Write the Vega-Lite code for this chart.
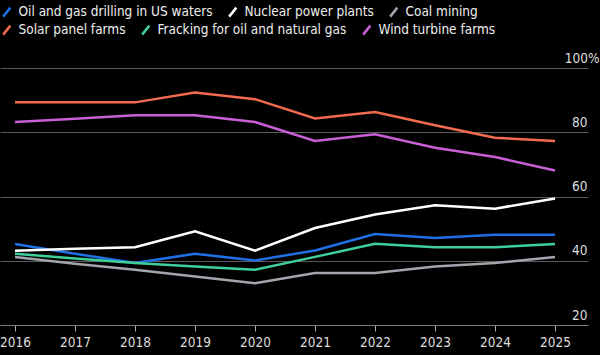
{
  "$schema": "https://vega.github.io/schema/vega-lite/v6.json",
  "width": 588,
  "height": 257,
  "autosize": {"type": "none"},
  "padding": {"left": 0, "top": 68, "right": 12, "bottom": 30},
  "background": "#000000",
  "config": {
    "view": {"stroke": null},
    "font": "DejaVu Sans Condensed, Roboto, sans-serif"
  },
  "data": {
    "values": [
      {"year": 2016, "series": "Oil and gas drilling in US waters", "value": 45.2},
      {"year": 2017, "series": "Oil and gas drilling in US waters", "value": 42.2},
      {"year": 2018, "series": "Oil and gas drilling in US waters", "value": 39.3},
      {"year": 2019, "series": "Oil and gas drilling in US waters", "value": 42.2},
      {"year": 2020, "series": "Oil and gas drilling in US waters", "value": 40.1},
      {"year": 2021, "series": "Oil and gas drilling in US waters", "value": 43.2},
      {"year": 2022, "series": "Oil and gas drilling in US waters", "value": 48.3},
      {"year": 2023, "series": "Oil and gas drilling in US waters", "value": 47.1},
      {"year": 2024, "series": "Oil and gas drilling in US waters", "value": 48.1},
      {"year": 2025, "series": "Oil and gas drilling in US waters", "value": 48.1},
      {"year": 2016, "series": "Nuclear power plants", "value": 43.1},
      {"year": 2017, "series": "Nuclear power plants", "value": 43.7},
      {"year": 2018, "series": "Nuclear power plants", "value": 44.2},
      {"year": 2019, "series": "Nuclear power plants", "value": 49.2},
      {"year": 2020, "series": "Nuclear power plants", "value": 43.1},
      {"year": 2021, "series": "Nuclear power plants", "value": 50.2},
      {"year": 2022, "series": "Nuclear power plants", "value": 54.4},
      {"year": 2023, "series": "Nuclear power plants", "value": 57.3},
      {"year": 2024, "series": "Nuclear power plants", "value": 56.2},
      {"year": 2025, "series": "Nuclear power plants", "value": 59.4},
      {"year": 2016, "series": "Coal mining", "value": 41.2},
      {"year": 2017, "series": "Coal mining", "value": 39.1},
      {"year": 2018, "series": "Coal mining", "value": 37.2},
      {"year": 2019, "series": "Coal mining", "value": 35.1},
      {"year": 2020, "series": "Coal mining", "value": 33.0},
      {"year": 2021, "series": "Coal mining", "value": 36.2},
      {"year": 2022, "series": "Coal mining", "value": 36.2},
      {"year": 2023, "series": "Coal mining", "value": 38.2},
      {"year": 2024, "series": "Coal mining", "value": 39.3},
      {"year": 2025, "series": "Coal mining", "value": 41.2},
      {"year": 2016, "series": "Solar panel farms", "value": 89.3},
      {"year": 2017, "series": "Solar panel farms", "value": 89.3},
      {"year": 2018, "series": "Solar panel farms", "value": 89.3},
      {"year": 2019, "series": "Solar panel farms", "value": 92.4},
      {"year": 2020, "series": "Solar panel farms", "value": 90.3},
      {"year": 2021, "series": "Solar panel farms", "value": 84.3},
      {"year": 2022, "series": "Solar panel farms", "value": 86.3},
      {"year": 2023, "series": "Solar panel farms", "value": 82.2},
      {"year": 2024, "series": "Solar panel farms", "value": 78.3},
      {"year": 2025, "series": "Solar panel farms", "value": 77.3},
      {"year": 2016, "series": "Fracking for oil and natural gas", "value": 42.2},
      {"year": 2017, "series": "Fracking for oil and natural gas", "value": 40.7},
      {"year": 2018, "series": "Fracking for oil and natural gas", "value": 39.3},
      {"year": 2019, "series": "Fracking for oil and natural gas", "value": 38.2},
      {"year": 2020, "series": "Fracking for oil and natural gas", "value": 37.2},
      {"year": 2021, "series": "Fracking for oil and natural gas", "value": 41.2},
      {"year": 2022, "series": "Fracking for oil and natural gas", "value": 45.3},
      {"year": 2023, "series": "Fracking for oil and natural gas", "value": 44.2},
      {"year": 2024, "series": "Fracking for oil and natural gas", "value": 44.2},
      {"year": 2025, "series": "Fracking for oil and natural gas", "value": 45.2},
      {"year": 2016, "series": "Wind turbine farms", "value": 83.2},
      {"year": 2017, "series": "Wind turbine farms", "value": 84.2},
      {"year": 2018, "series": "Wind turbine farms", "value": 85.3},
      {"year": 2019, "series": "Wind turbine farms", "value": 85.3},
      {"year": 2020, "series": "Wind turbine farms", "value": 83.2},
      {"year": 2021, "series": "Wind turbine farms", "value": 77.3},
      {"year": 2022, "series": "Wind turbine farms", "value": 79.4},
      {"year": 2023, "series": "Wind turbine farms", "value": 75.2},
      {"year": 2024, "series": "Wind turbine farms", "value": 72.3},
      {"year": 2025, "series": "Wind turbine farms", "value": 68.1}
    ]
  },
  "encoding": {
    "x": {
      "field": "year",
      "type": "quantitative",
      "scale": {"domain": [2015.75, 2025.55], "nice": false, "zero": false},
      "axis": {
        "title": null,
        "values": [2016, 2017, 2018, 2019, 2020, 2021, 2022, 2023, 2024, 2025],
        "format": "d",
        "grid": false,
        "domainColor": "#777777",
        "domainWidth": 1,
        "tickColor": "#aaaaaa",
        "tickSize": 6,
        "labelColor": "#dddddd",
        "labelFontSize": 13.5,
        "labelPadding": 4,
        "labelFlush": false,
        "labelOverlap": false
      }
    },
    "y": {
      "field": "value",
      "type": "quantitative",
      "scale": {"domain": [20, 100], "nice": false, "zero": false},
      "axis": {
        "title": null,
        "orient": "right",
        "values": [20, 40, 60, 80, 100],
        "labelExpr": "datum.value == 100 ? '100%' : datum.label",
        "grid": true,
        "gridColor": "#5a5a5a",
        "gridWidth": 1,
        "domain": false,
        "ticks": false,
        "labelAlign": "right",
        "labelBaseline": "alphabetic",
        "labelOffset": -6,
        "labelPadding": {"condition": {"test": "datum.value == 100", "value": 11}, "value": -1},
        "labelColor": "#dddddd",
        "labelFontSize": 13.5,
        "labelFlush": false,
        "labelOverlap": false
      }
    }
  },
  "layer": [
    {
      "transform": [{"filter": {"field": "series", "oneOf": ["Oil and gas drilling in US waters", "Nuclear power plants", "Coal mining"]}}],
      "mark": {"type": "line", "strokeWidth": 2.5, "clip": false},
      "encoding": {
        "color": {
          "field": "series",
          "type": "nominal",
          "scale": {
            "domain": ["Oil and gas drilling in US waters", "Nuclear power plants", "Coal mining"],
            "range": ["#1f6fe5", "#ffffff", "#a3a5ad"]
          },
          "legend": {
            "title": null,
            "orient": "none",
            "legendX": 0,
            "legendY": -63,
            "direction": "horizontal",
            "columnPadding": 11,
            "symbolType": "M-0.8,1L0.8,-1",
            "symbolSize": 81,
            "symbolStrokeWidth": 2.5,
            "labelColor": "#eeeeee",
            "labelFontSize": 13.5,
            "labelOffset": 5,
            "labelLimit": 400
          }
        }
      }
    },
    {
      "transform": [{"filter": {"field": "series", "oneOf": ["Solar panel farms", "Fracking for oil and natural gas", "Wind turbine farms"]}}],
      "mark": {"type": "line", "strokeWidth": 2.5, "clip": false},
      "encoding": {
        "color": {
          "field": "series",
          "type": "nominal",
          "scale": {
            "domain": ["Solar panel farms", "Fracking for oil and natural gas", "Wind turbine farms"],
            "range": ["#f26a4f", "#3fcf99", "#c95fd6"]
          },
          "legend": {
            "title": null,
            "orient": "none",
            "legendX": 0,
            "legendY": -45,
            "direction": "horizontal",
            "columnPadding": 11,
            "symbolType": "M-0.8,1L0.8,-1",
            "symbolSize": 81,
            "symbolStrokeWidth": 2.5,
            "labelColor": "#eeeeee",
            "labelFontSize": 13.5,
            "labelOffset": 5,
            "labelLimit": 400
          }
        }
      }
    }
  ],
  "resolve": {"scale": {"color": "independent"}}
}
